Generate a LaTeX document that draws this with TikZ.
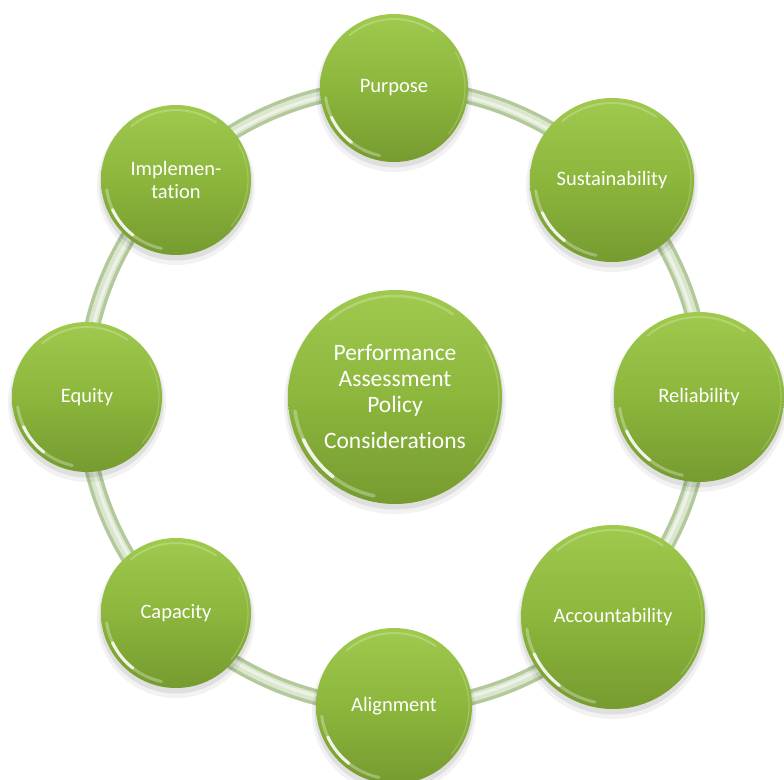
\documentclass[tikz,border=0pt]{standalone}
\usepackage{fontspec}
\setmainfont{Carlito}[Ligatures={NoCommon}]
\usetikzlibrary{calc}
\definecolor{gtop}{RGB}{160,202,78}
\definecolor{gmid}{RGB}{140,182,60}
\definecolor{gbot}{RGB}{118,155,48}
\definecolor{ringout}{RGB}{180,201,155}
\definecolor{ringin}{RGB}{218,230,205}
\tikzset{
  bubble/.style={circle, inner sep=0pt, top color=gtop, bottom color=gbot, middle color=gmid,
    text=white, align=center, font=\fontsize{20.5bp}{23bp}\selectfont},
  gloss/.style={white, line cap=round},
  ringstroke/.style={line width=#1bp}
}
\newcommand\bub[5]{%
  \fill[black,opacity=0.05] (#2,#3-6) circle (#4+4);
  \fill[black,opacity=0.08] (#2,#3-4) circle (#4+1.5);
  \node[bubble, minimum size={(2*#4)*1bp}] (#1) at (#2,#3) {#5};
  \draw[gloss, opacity=.3, line width=3bp] ([shift={(#2,#3)}]188:#4-5) arc[start angle=188, end angle=258, radius=#4-5];
  \draw[gloss, opacity=.85, line width=3bp] ([shift={(#2,#3)}]205:#4-5) arc[start angle=205, end angle=232, radius=#4-5];
  \draw[gloss, opacity=.22, line width=2bp] ([shift={(#2,#3)}]55:#4-5) arc[start angle=55, end angle=130, radius=#4-5];
  \draw[gloss, opacity=.2, line width=1.2bp] ([shift={(#2,#3)}]-40:#4-3) arc[start angle=-40, end angle=30, radius=#4-3];
}
\begin{document}
\begin{tikzpicture}[x=1bp,y=1bp]
\useasboundingbox (0,0) rectangle (784,-780);
\fill[white] (0,0) rectangle (784,-780);
% ring
\coordinate (hub) at (394,-397);
\draw[ringout, ringstroke=16] (hub) circle (310);
\draw[ringin, ringstroke=9] (hub) circle (310);
\draw[white, opacity=.5, ringstroke=3] (hub) circle (309);
% bubbles
\bub{purpose}{394}{-88}{74}{Purpose}
\bub{sust}{612}{-180}{82}{Sustainability}
\bub{rel}{699}{-397}{85}{Reliability}
\bub{acc}{613}{-617}{92}{Accountability}
\bub{align}{394}{-706}{78}{Alignment}
\bub{cap}{176}{-613}{75}{Capacity}
\bub{equity}{87}{-397}{75}{Equity}
\bub{impl}{176}{-180}{75}{Implemen-\\tation}
\fill[black,opacity=0.05] (395,-403) circle (111);
\fill[black,opacity=0.08] (395,-401) circle (108.5);
\node[bubble, minimum size=214bp, font=\fontsize{23.5bp}{26bp}\selectfont] (center) at (395,-397)
  {Performance\\Assessment\\Policy\\[10bp]Considerations};
\draw[gloss, opacity=.3, line width=3.5bp] ([shift={(395,-397)}]188:101) arc[start angle=188, end angle=258, radius=101];
\draw[gloss, opacity=.85, line width=3.5bp] ([shift={(395,-397)}]205:101) arc[start angle=205, end angle=232, radius=101];
\draw[gloss, opacity=.22, line width=2.5bp] ([shift={(395,-397)}]55:101) arc[start angle=55, end angle=130, radius=101];
\draw[gloss, opacity=.2, line width=1.5bp] ([shift={(395,-397)}]-40:104) arc[start angle=-40, end angle=30, radius=104];
\end{tikzpicture}
\end{document}
